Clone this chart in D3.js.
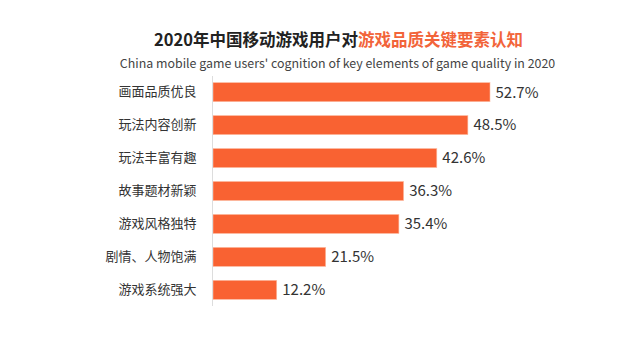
<!DOCTYPE html>
<html><head><meta charset="utf-8">
<script src="https://cdn.jsdelivr.net/npm/d3@7"></script>
<style>
html,body{margin:0;padding:0;background:#fff;}
svg{display:block;font-family:"Noto Sans CJK SC","Noto Sans",sans-serif;}
</style></head><body>
<svg id="c" width="641" height="338"></svg>
<script>
const categories = ["画面品质优良","玩法内容创新","玩法丰富有趣","故事题材新颖","游戏风格独特","剧情、人物饱满","游戏系统强大"];
const values = [52.7, 48.5, 42.6, 36.3, 35.4, 21.5, 12.2];
const titleBlack = "2020年中国移动游戏用户对";
const titleRed = "游戏品质关键要素认知";
const subtitle = "China mobile game users' cognition of key elements of game quality in 2020";

const svg = d3.select("#c");
const x0 = 212.5, yTop = 76, yBottom = 306;
const x = d3.scaleLinear().domain([0, 52.7]).range([x0, 490]);
const y = d3.scaleBand().domain(categories).range([yTop, yBottom]).paddingInner(0.42).paddingOuter(0.2);

const t = svg.append("text").attr("x", 338.5).attr("y", 46).attr("text-anchor", "middle")
  .attr("font-size", 16.5).attr("font-weight", "bold");
t.append("tspan").attr("fill", "#222").text(titleBlack);
t.append("tspan").attr("fill", "#f2643a").text(titleRed);

svg.append("text").attr("x", 337.5).attr("y", 68).attr("text-anchor", "middle")
  .attr("font-size", 12.4).attr("fill", "#444").text(subtitle);

svg.append("g").selectAll("rect").data(values).join("rect")
  .attr("x", x0 + 0.5)
  .attr("y", (d, i) => y(categories[i]))
  .attr("width", d => x(d) - x0 - 0.5)
  .attr("height", y.bandwidth())
  .attr("fill", "#f96232")
  .attr("stroke", "#fcc0a8").attr("stroke-width", 0.6);

const axis = d3.axisLeft(y).tickSize(0).tickPadding(16);
const g = svg.append("g").attr("transform", `translate(${x0},0)`).call(axis);
g.select(".domain").attr("stroke", "#ddd").attr("d", `M0,${yTop}V${yBottom}`);
g.selectAll("text").attr("font-size", 13).attr("fill", "#333").attr("font-family", "Noto Sans CJK SC");

svg.append("g").selectAll("text").data(values).join("text")
  .attr("x", d => x(d) + 5.5)
  .attr("y", (d, i) => y(categories[i]) + y.bandwidth() / 2)
  .attr("dy", "0.36em")
  .attr("font-size", 15).attr("fill", "#333")
  .text(d => d.toFixed(1) + "%");
</script>
</body></html>
